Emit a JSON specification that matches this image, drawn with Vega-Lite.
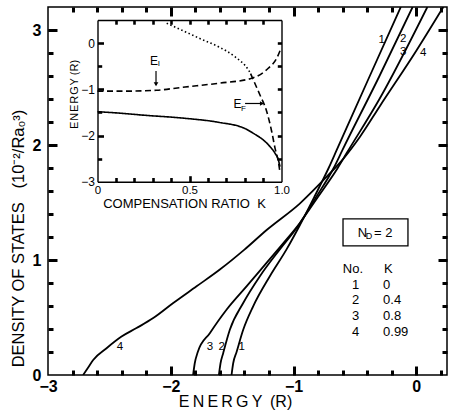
{
  "$schema": "https://vega.github.io/schema/vega-lite/v6.json",
  "width": 399,
  "height": 368,
  "autosize": {"type": "none"},
  "padding": {"left": 48, "top": 7, "right": 4, "bottom": 35},
  "background": "white",
  "config": {
    "view": {"stroke": "black", "strokeWidth": 1.5},
    "axis": {"grid": false, "tickColor": "black", "tickOpacity": 1, "domainColor": "black", "labelColor": "black", "titleColor": "black", "labelFont": "Liberation Sans", "titleFont": "Liberation Sans", "domainWidth": 1.4, "labelFlush": false, "labelOverlap": false},
    "text": {"font": "Liberation Sans", "color": "black"}
  },
  "datasets": {
    "dos": [
      {"no": "1", "E": -1.505, "D": 0}, {"no": "1", "E": -1.492, "D": 0.1}, {"no": "1", "E": -1.464, "D": 0.2}, {"no": "1", "E": -1.41, "D": 0.393}, {"no": "1", "E": -1.329, "D": 0.597}, {"no": "1", "E": -1.193, "D": 0.859}, {"no": "1", "E": -1.057, "D": 1.092}, {"no": "1", "E": -0.95, "D": 1.3}, {"no": "1", "E": -0.83, "D": 1.55}, {"no": "1", "E": -0.714, "D": 1.8}, {"no": "1", "E": -0.648, "D": 1.957}, {"no": "1", "E": -0.4, "D": 2.55}, {"no": "1", "E": -0.126, "D": 3.2},
      {"no": "2", "E": -1.608, "D": 0}, {"no": "2", "E": -1.595, "D": 0.1}, {"no": "2", "E": -1.573, "D": 0.19}, {"no": "2", "E": -1.519, "D": 0.393}, {"no": "2", "E": -1.41, "D": 0.626}, {"no": "2", "E": -1.274, "D": 0.859}, {"no": "2", "E": -1.112, "D": 1.092}, {"no": "2", "E": -0.96, "D": 1.3}, {"no": "2", "E": -0.82, "D": 1.54}, {"no": "2", "E": -0.673, "D": 1.8}, {"no": "2", "E": -0.6, "D": 1.96}, {"no": "2", "E": -0.3, "D": 2.6}, {"no": "2", "E": -0.03, "D": 3.2},
      {"no": "3", "E": -1.818, "D": 0}, {"no": "3", "E": -1.805, "D": 0.1}, {"no": "3", "E": -1.78, "D": 0.2}, {"no": "3", "E": -1.682, "D": 0.364}, {"no": "3", "E": -1.546, "D": 0.568}, {"no": "3", "E": -1.383, "D": 0.771}, {"no": "3", "E": -1.22, "D": 0.975}, {"no": "3", "E": -1.057, "D": 1.179}, {"no": "3", "E": -0.95, "D": 1.32}, {"no": "3", "E": -0.8, "D": 1.55}, {"no": "3", "E": -0.64, "D": 1.8}, {"no": "3", "E": -0.567, "D": 1.93}, {"no": "3", "E": -0.3, "D": 2.4}, {"no": "3", "E": 0.09, "D": 3.2},
      {"no": "4", "E": -2.714, "D": 0}, {"no": "4", "E": -2.67, "D": 0.07}, {"no": "4", "E": -2.632, "D": 0.131}, {"no": "4", "E": -2.523, "D": 0.233}, {"no": "4", "E": -2.401, "D": 0.334}, {"no": "4", "E": -2.279, "D": 0.408}, {"no": "4", "E": -2.143, "D": 0.495}, {"no": "4", "E": -1.98, "D": 0.626}, {"no": "4", "E": -1.79, "D": 0.771}, {"no": "4", "E": -1.6, "D": 0.917}, {"no": "4", "E": -1.4, "D": 1.09}, {"no": "4", "E": -1.219, "D": 1.261}, {"no": "4", "E": -0.947, "D": 1.493}, {"no": "4", "E": -0.73, "D": 1.724}, {"no": "4", "E": -0.595, "D": 1.88}, {"no": "4", "E": -0.46, "D": 2.07}, {"no": "4", "E": -0.296, "D": 2.34}, {"no": "4", "E": 0.0, "D": 2.82}, {"no": "4", "E": 0.22, "D": 3.2}
    ],
    "curvelabels": [
      {"t": "1", "E": -0.282, "D": 2.913}, {"t": "2", "E": -0.106, "D": 2.918}, {"t": "3", "E": -0.106, "D": 2.806}, {"t": "4", "E": 0.057, "D": 2.797},
      {"t": "4", "E": -2.413, "D": 0.246}, {"t": "3", "E": -1.681, "D": 0.246}, {"t": "2", "E": -1.585, "D": 0.246}, {"t": "1", "E": -1.422, "D": 0.246}
    ],
    "box": [{"E1": -0.597, "E2": -0.068, "D1": 1.357, "D2": 1.122}],
    "nd": [{"t": "N", "E": -0.438, "D": 1.239}],
    "ndsub": [{"t": "D", "E": -0.385, "D": 1.209}],
    "ndval": [{"t": "= 2", "E": -0.345, "D": 1.239}],
    "tableNo": [
      {"t": "No.", "E": -0.516, "D": 0.922}, {"t": "1", "E": -0.494, "D": 0.783}, {"t": "2", "E": -0.494, "D": 0.652}, {"t": "3", "E": -0.494, "D": 0.513}, {"t": "4", "E": -0.494, "D": 0.374}
    ],
    "tableK": [
      {"t": "K", "E": -0.263, "D": 0.922}, {"t": "0", "E": -0.271, "D": 0.783}, {"t": "0.4", "E": -0.271, "D": 0.652}, {"t": "0.8", "E": -0.271, "D": 0.513}, {"t": "0.99", "E": -0.271, "D": 0.374}
    ],
    "inset": [
      {"curve": "EA", "K": 0, "E": -1.485}, {"curve": "EA", "K": 0.1, "E": -1.51}, {"curve": "EA", "K": 0.25, "E": -1.56}, {"curve": "EA", "K": 0.476, "E": -1.628}, {"curve": "EA", "K": 0.657, "E": -1.714}, {"curve": "EA", "K": 0.802, "E": -1.85}, {"curve": "EA", "K": 0.85, "E": -1.96}, {"curve": "EA", "K": 0.901, "E": -2.097}, {"curve": "EA", "K": 0.938, "E": -2.242}, {"curve": "EA", "K": 0.965, "E": -2.385}, {"curve": "EA", "K": 0.983, "E": -2.53}, {"curve": "EA", "K": 0.992, "E": -2.675},
      {"curve": "EI", "K": 0, "E": -1.04}, {"curve": "EI", "K": 0.15, "E": -1.04}, {"curve": "EI", "K": 0.32, "E": -1.02}, {"curve": "EI", "K": 0.476, "E": -0.95}, {"curve": "EI", "K": 0.657, "E": -0.87}, {"curve": "EI", "K": 0.838, "E": -0.762}, {"curve": "EI", "K": 0.928, "E": -0.545}, {"curve": "EI", "K": 0.974, "E": -0.329}, {"curve": "EI", "K": 0.997, "E": -0.113},
      {"curve": "EFu", "K": 0.376, "E": 0.43}, {"curve": "EFu", "K": 0.476, "E": 0.247}, {"curve": "EFu", "K": 0.567, "E": 0.08}, {"curve": "EFu", "K": 0.657, "E": -0.078}, {"curve": "EFu", "K": 0.747, "E": -0.294}, {"curve": "EFu", "K": 0.82, "E": -0.58}, {"curve": "EFu", "K": 0.832, "E": -0.66},
      {"curve": "EF", "K": 0.832, "E": -0.66}, {"curve": "EF", "K": 0.855, "E": -0.87}, {"curve": "EF", "K": 0.883, "E": -1.123}, {"curve": "EF", "K": 0.92, "E": -1.485}, {"curve": "EF", "K": 0.947, "E": -1.918}, {"curve": "EF", "K": 0.965, "E": -2.277}, {"curve": "EF", "K": 0.983, "E": -2.567}, {"curve": "EF", "K": 0.99, "E": -2.75}
    ],
    "arrows": [
      {"a": "EI", "K1": 0.318, "K2": 0.318, "E1": -0.604, "E2": -0.9},
      {"a": "EF", "K1": 0.802, "K2": 0.9, "E1": -1.307, "E2": -1.307}
    ],
    "heads": [
      {"a": "EI", "K": 0.318, "E": -0.89},
      {"a": "EF", "K": 0.894, "E": -1.307}
    ],
    "insetText": [
      {"t": "E", "K": 0.307, "E": -0.377}, {"t": "E", "K": 0.761, "E": -1.329}
    ],
    "insetSub": [
      {"t": "I", "K": 0.334, "E": -0.463}, {"t": "F", "K": 0.793, "E": -1.437}
    ]
  },
  "resolve": {"scale": {"x": "independent", "y": "independent"}},
  "layer": [
    {
      "data": {"name": "dos"},
      "mark": {"type": "line", "color": "black", "strokeWidth": 1.8, "clip": true, "interpolate": "monotone"},
      "encoding": {
        "x": {"field": "E", "type": "quantitative", "scale": {"domain": [-3, 0.25], "nice": false, "zero": false},
          "axis": {"orient": "bottom", "values": [-3, -2, -1, 0], "ticks": false, "labelPadding": 3, "labelFontSize": 16, "labelFontWeight": "bold", "domain": false,
            "title": "E\u2009N\u2009E\u2009R\u2009G\u2009Y\u00a0\u2009(R)", "titleFontSize": 16, "titleFontWeight": "normal", "titleX": 187, "titleY": 26, "titleBaseline": "middle"}},
        "y": {"field": "D", "type": "quantitative", "scale": {"domain": [0, 3.2], "nice": false, "zero": false},
          "axis": {"orient": "left", "values": [0, 1, 2, 3], "ticks": false, "labelPadding": 7, "labelFontSize": 16, "labelFontWeight": "bold", "domain": false,
            "title": "DENSITY OF STATES\u00a0\u00a0\u00a0(10⁻²/Ra₀³)", "titleFontSize": 16.5, "titleFontWeight": "normal", "titleX": -30, "titleY": 231, "titleBaseline": "middle"}},
        "detail": {"field": "no"}
      }
    },
    {
      "data": {"name": "dos"},
      "mark": {"type": "point", "opacity": 0},
      "encoding": {
        "x": {"field": "E", "type": "quantitative", "scale": {"domain": [-3, 0.25], "nice": false, "zero": false},
          "axis": {"orient": "bottom", "offset": -9, "values": [-2, -1, 0], "ticks": true, "tickSize": 9, "tickWidth": 3, "tickColor": "black", "zindex": 2, "labels": false, "domain": false, "title": null}},
        "y": {"field": "D", "type": "quantitative", "scale": {"domain": [0, 3.2], "nice": false, "zero": false},
          "axis": {"orient": "left", "offset": -9, "values": [1, 2, 3], "ticks": true, "tickSize": 9, "tickWidth": 3, "tickColor": "black", "zindex": 2, "labels": false, "domain": false, "title": null}}
      }
    },
    {
      "data": {"name": "dos"},
      "mark": {"type": "point", "opacity": 0},
      "encoding": {
        "x": {"field": "E", "type": "quantitative", "scale": {"domain": [-3, 0.25], "nice": false, "zero": false},
          "axis": {"orient": "bottom", "offset": -5, "values": [-2.8, -2.6, -2.4, -2.2, -1.8, -1.6, -1.4, -1.2, -0.8, -0.6, -0.4, -0.2, 0.2], "ticks": true, "tickSize": 5, "tickWidth": 3, "tickColor": "black", "zindex": 2, "labels": false, "domain": false, "title": null}},
        "y": {"field": "D", "type": "quantitative", "scale": {"domain": [0, 3.2], "nice": false, "zero": false},
          "axis": {"orient": "left", "offset": -5, "values": [0.2, 0.4, 0.6, 0.8, 1.2, 1.4, 1.6, 1.8, 2.2, 2.4, 2.6, 2.8, 3.0], "ticks": true, "tickSize": 5, "tickWidth": 3, "tickColor": "black", "zindex": 2, "labels": false, "domain": false, "title": null}}
      }
    },
    {
      "data": {"name": "dos"},
      "mark": {"type": "point", "opacity": 0},
      "encoding": {
        "x": {"field": "E", "type": "quantitative", "scale": {"domain": [-3, 0.25], "nice": false, "zero": false},
          "axis": {"orient": "top", "offset": -9, "values": [-2, -1, 0], "ticks": true, "tickSize": 9, "tickWidth": 3, "tickColor": "black", "zindex": 2, "labels": false, "domain": false, "title": null}},
        "y": {"field": "D", "type": "quantitative", "scale": {"domain": [0, 3.2], "nice": false, "zero": false},
          "axis": {"orient": "right", "offset": -9, "values": [1, 2, 3], "ticks": true, "tickSize": 9, "tickWidth": 3, "tickColor": "black", "zindex": 2, "labels": false, "domain": false, "title": null}}
      }
    },
    {
      "data": {"name": "dos"},
      "mark": {"type": "point", "opacity": 0},
      "encoding": {
        "x": {"field": "E", "type": "quantitative", "scale": {"domain": [-3, 0.25], "nice": false, "zero": false},
          "axis": {"orient": "top", "offset": -5, "values": [-2.8, -2.6, -2.4, -2.2, -1.8, -1.6, -1.4, -1.2, -0.8, -0.6, -0.4, -0.2, 0.2], "ticks": true, "tickSize": 5, "tickWidth": 3, "tickColor": "black", "zindex": 2, "labels": false, "domain": false, "title": null}},
        "y": {"field": "D", "type": "quantitative", "scale": {"domain": [0, 3.2], "nice": false, "zero": false},
          "axis": {"orient": "right", "offset": -5, "values": [0.2, 0.4, 0.6, 0.8, 1.2, 1.4, 1.6, 1.8, 2.2, 2.4, 2.6, 2.8, 3.0], "ticks": true, "tickSize": 5, "tickWidth": 3, "tickColor": "black", "zindex": 2, "labels": false, "domain": false, "title": null}}
      }
    },
    {
      "data": {"name": "curvelabels"},
      "mark": {"type": "text", "fontSize": 11.5, "align": "center", "baseline": "middle"},
      "encoding": {
        "x": {"field": "E", "type": "quantitative", "scale": {"domain": [-3, 0.25], "nice": false, "zero": false}, "axis": null},
        "y": {"field": "D", "type": "quantitative", "scale": {"domain": [0, 3.2], "nice": false, "zero": false}, "axis": null},
        "text": {"field": "t"}
      }
    },
    {
      "data": {"name": "box"},
      "mark": {"type": "rect", "filled": false, "stroke": "black", "strokeWidth": 1.3},
      "encoding": {
        "x": {"field": "E1", "type": "quantitative", "scale": {"domain": [-3, 0.25], "nice": false, "zero": false}, "axis": null},
        "x2": {"field": "E2"},
        "y": {"field": "D1", "type": "quantitative", "scale": {"domain": [0, 3.2], "nice": false, "zero": false}, "axis": null},
        "y2": {"field": "D2"}
      }
    },
    {
      "data": {"name": "nd"},
      "mark": {"type": "text", "fontSize": 13, "align": "center", "baseline": "middle"},
      "encoding": {
        "x": {"field": "E", "type": "quantitative", "scale": {"domain": [-3, 0.25], "nice": false, "zero": false}, "axis": null},
        "y": {"field": "D", "type": "quantitative", "scale": {"domain": [0, 3.2], "nice": false, "zero": false}, "axis": null},
        "text": {"field": "t"}
      }
    },
    {
      "data": {"name": "ndsub"},
      "mark": {"type": "text", "fontSize": 9, "align": "center", "baseline": "middle"},
      "encoding": {
        "x": {"field": "E", "type": "quantitative", "scale": {"domain": [-3, 0.25], "nice": false, "zero": false}, "axis": null},
        "y": {"field": "D", "type": "quantitative", "scale": {"domain": [0, 3.2], "nice": false, "zero": false}, "axis": null},
        "text": {"field": "t"}
      }
    },
    {
      "data": {"name": "ndval"},
      "mark": {"type": "text", "fontSize": 13, "align": "left", "baseline": "middle"},
      "encoding": {
        "x": {"field": "E", "type": "quantitative", "scale": {"domain": [-3, 0.25], "nice": false, "zero": false}, "axis": null},
        "y": {"field": "D", "type": "quantitative", "scale": {"domain": [0, 3.2], "nice": false, "zero": false}, "axis": null},
        "text": {"field": "t"}
      }
    },
    {
      "data": {"name": "tableNo"},
      "mark": {"type": "text", "fontSize": 13, "align": "center", "baseline": "middle"},
      "encoding": {
        "x": {"field": "E", "type": "quantitative", "scale": {"domain": [-3, 0.25], "nice": false, "zero": false}, "axis": null},
        "y": {"field": "D", "type": "quantitative", "scale": {"domain": [0, 3.2], "nice": false, "zero": false}, "axis": null},
        "text": {"field": "t"}
      }
    },
    {
      "data": {"name": "tableK"},
      "mark": {"type": "text", "fontSize": 13, "align": "left", "baseline": "middle"},
      "encoding": {
        "x": {"field": "E", "type": "quantitative", "scale": {"domain": [-3, 0.25], "nice": false, "zero": false}, "axis": null},
        "y": {"field": "D", "type": "quantitative", "scale": {"domain": [0, 3.2], "nice": false, "zero": false}, "axis": null},
        "text": {"field": "t"}
      }
    },
    {
      "data": {"name": "inset"},
      "mark": {"type": "line", "color": "black", "strokeWidth": 1.6, "interpolate": "monotone"},
      "encoding": {
        "x": {"field": "K", "type": "quantitative", "scale": {"domain": [0, 1], "range": [49.5, 233.5], "nice": false, "zero": false},
          "axis": {"orient": "bottom", "offset": -193.3, "values": [0, 0.5, 1], "ticks": false, "labelPadding": 3, "labelFontSize": 11.5, "labelExpr": "datum.value == 0 ? '0' : format(datum.value, '.1f')", "domain": true,
            "title": "COMPENSATION RATIO\u00a0\u00a0K", "titleFontSize": 13, "titleFontWeight": "normal", "titleX": 136, "titleY": 22, "titleBaseline": "middle"}},
        "y": {"field": "E", "type": "quantitative", "scale": {"domain": [-3, 0.5], "range": [174.7, 13], "nice": false, "zero": false},
          "axis": {"orient": "left", "offset": -49.5, "values": [-3, -2, -1, 0], "ticks": false, "labelPadding": 3, "labelFontSize": 12, "domain": true,
            "title": "E\u200aN\u200aE\u200aR\u200aG\u200aY (R)", "titleFontSize": 11, "titleFontWeight": "normal", "titleX": -23.5, "titleY": 87, "titleBaseline": "middle"}},
        "detail": {"field": "curve"},
        "strokeDash": {"field": "curve", "type": "nominal", "legend": null, "scale": {"domain": ["EA", "EI", "EFu", "EF"], "range": [[1, 0], [6, 3.5], [1.5, 2.5], [6, 3.5]]}}
      }
    },
    {
      "data": {"name": "inset"},
      "mark": {"type": "point", "opacity": 0},
      "encoding": {
        "x": {"field": "K", "type": "quantitative", "scale": {"domain": [0, 1], "range": [49.5, 233.5], "nice": false, "zero": false},
          "axis": {"orient": "bottom", "offset": -199.3, "values": [0.5], "ticks": true, "tickSize": 6, "tickWidth": 2.6, "tickColor": "black", "zindex": 2, "labels": false, "domain": false, "title": null}},
        "y": {"field": "E", "type": "quantitative", "scale": {"domain": [-3, 0.5], "range": [174.7, 13], "nice": false, "zero": false},
          "axis": {"orient": "left", "offset": -55.5, "values": [-2, -1, 0], "ticks": true, "tickSize": 6, "tickWidth": 2.6, "tickColor": "black", "zindex": 2, "labels": false, "domain": false, "title": null}}
      }
    },
    {
      "data": {"name": "inset"},
      "mark": {"type": "point", "opacity": 0},
      "encoding": {
        "x": {"field": "K", "type": "quantitative", "scale": {"domain": [0, 1], "range": [49.5, 233.5], "nice": false, "zero": false},
          "axis": {"orient": "bottom", "offset": -197.5, "values": [0.1, 0.2, 0.3, 0.4, 0.6, 0.7, 0.8, 0.9], "ticks": true, "tickSize": 4.2, "tickWidth": 2.6, "tickColor": "black", "zindex": 2, "labels": false, "domain": false, "title": null}},
        "y": {"field": "E", "type": "quantitative", "scale": {"domain": [-3, 0.5], "range": [174.7, 13], "nice": false, "zero": false},
          "axis": {"orient": "left", "offset": -53.7, "values": [-2.5, -1.5, -0.5], "ticks": true, "tickSize": 4.2, "tickWidth": 2.6, "tickColor": "black", "zindex": 2, "labels": false, "domain": false, "title": null}}
      }
    },
    {
      "data": {"name": "inset"},
      "mark": {"type": "point", "opacity": 0},
      "encoding": {
        "x": {"field": "K", "type": "quantitative", "scale": {"domain": [0, 1], "range": [49.5, 233.5], "nice": false, "zero": false},
          "axis": {"orient": "top", "offset": -13, "ticks": false, "labels": false, "domain": true, "title": null}},
        "y": {"field": "E", "type": "quantitative", "scale": {"domain": [-3, 0.5], "range": [174.7, 13], "nice": false, "zero": false},
          "axis": {"orient": "right", "offset": -165.5, "ticks": false, "labels": false, "domain": true, "title": null}}
      }
    },
    {
      "data": {"name": "inset"},
      "mark": {"type": "point", "opacity": 0},
      "encoding": {
        "x": {"field": "K", "type": "quantitative", "scale": {"domain": [0, 1], "range": [49.5, 233.5], "nice": false, "zero": false},
          "axis": {"orient": "top", "offset": -17.2, "values": [0.1, 0.2, 0.3, 0.4, 0.5, 0.6, 0.7, 0.8, 0.9], "ticks": true, "tickSize": 4.2, "tickWidth": 2.6, "tickColor": "black", "zindex": 2, "labels": false, "domain": false, "title": null}},
        "y": {"field": "E", "type": "quantitative", "scale": {"domain": [-3, 0.5], "range": [174.7, 13], "nice": false, "zero": false},
          "axis": {"orient": "right", "offset": -169.7, "values": [-2.5, -2, -1.5, -1, -0.5, 0], "ticks": true, "tickSize": 4.2, "tickWidth": 2.6, "tickColor": "black", "zindex": 2, "labels": false, "domain": false, "title": null}}
      }
    },
    {
      "data": {"name": "arrows"},
      "mark": {"type": "rule", "color": "black", "strokeWidth": 1.2},
      "encoding": {
        "x": {"field": "K1", "type": "quantitative", "scale": {"domain": [0, 1], "range": [49.5, 233.5], "nice": false, "zero": false}, "axis": null},
        "x2": {"field": "K2"},
        "y": {"field": "E1", "type": "quantitative", "scale": {"domain": [-3, 0.5], "range": [174.7, 13], "nice": false, "zero": false}, "axis": null},
        "y2": {"field": "E2"}
      }
    },
    {
      "data": {"name": "heads"},
      "transform": [{"filter": "datum.a == 'EI'"}],
      "mark": {"type": "point", "shape": "triangle-down", "filled": true, "color": "black", "size": 22, "opacity": 1},
      "encoding": {
        "x": {"field": "K", "type": "quantitative", "scale": {"domain": [0, 1], "range": [49.5, 233.5], "nice": false, "zero": false}, "axis": null},
        "y": {"field": "E", "type": "quantitative", "scale": {"domain": [-3, 0.5], "range": [174.7, 13], "nice": false, "zero": false}, "axis": null}
      }
    },
    {
      "data": {"name": "heads"},
      "transform": [{"filter": "datum.a == 'EF'"}],
      "mark": {"type": "point", "shape": "triangle-right", "filled": true, "color": "black", "size": 22, "opacity": 1},
      "encoding": {
        "x": {"field": "K", "type": "quantitative", "scale": {"domain": [0, 1], "range": [49.5, 233.5], "nice": false, "zero": false}, "axis": null},
        "y": {"field": "E", "type": "quantitative", "scale": {"domain": [-3, 0.5], "range": [174.7, 13], "nice": false, "zero": false}, "axis": null}
      }
    },
    {
      "data": {"name": "insetText"},
      "mark": {"type": "text", "fontSize": 12, "align": "center", "baseline": "middle"},
      "encoding": {
        "x": {"field": "K", "type": "quantitative", "scale": {"domain": [0, 1], "range": [49.5, 233.5], "nice": false, "zero": false}, "axis": null},
        "y": {"field": "E", "type": "quantitative", "scale": {"domain": [-3, 0.5], "range": [174.7, 13], "nice": false, "zero": false}, "axis": null},
        "text": {"field": "t"}
      }
    },
    {
      "data": {"name": "insetSub"},
      "mark": {"type": "text", "fontSize": 8, "align": "center", "baseline": "middle"},
      "encoding": {
        "x": {"field": "K", "type": "quantitative", "scale": {"domain": [0, 1], "range": [49.5, 233.5], "nice": false, "zero": false}, "axis": null},
        "y": {"field": "E", "type": "quantitative", "scale": {"domain": [-3, 0.5], "range": [174.7, 13], "nice": false, "zero": false}, "axis": null},
        "text": {"field": "t"}
      }
    }
  ]
}
